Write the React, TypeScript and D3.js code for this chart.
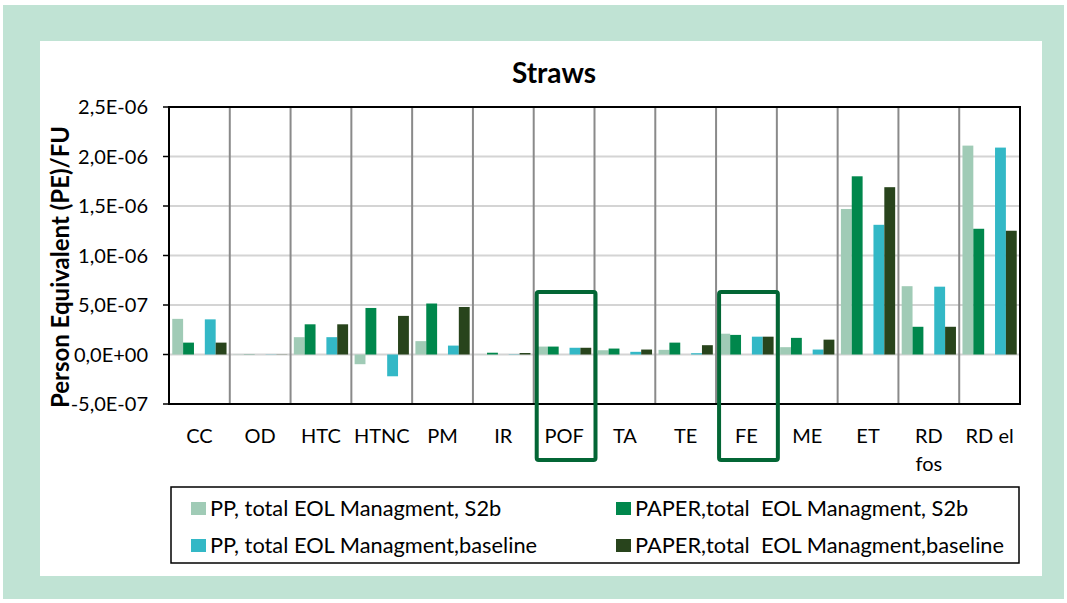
import React, { useEffect, useRef } from "react";
import * as d3 from "d3";

const categories = ["CC", "OD", "HTC", "HTNC", "PM", "IR", "POF", "TA", "TE", "FE", "ME", "ET", "RD fos", "RD el"];
const seriesNames = [
  "PP, total EOL Managment, S2b",
  "PAPER,total  EOL Managment, S2b",
  "PP, total EOL Managment,baseline",
  "PAPER,total  EOL Managment,baseline",
];
const ppS2b = [3.6e-7, 2e-9, 1.75e-7, -0.98e-7, 1.35e-7, 1e-9, 0.8e-7, 0.43e-7, 0.47e-7, 2.1e-7, 0.74e-7, 1.47e-6, 0.69e-6, 2.11e-6];
const paperS2b = [1.2e-7, 2e-9, 3.05e-7, 4.7e-7, 5.15e-7, 1.8e-8, 0.8e-7, 0.6e-7, 1.2e-7, 1.98e-7, 1.68e-7, 1.8e-6, 0.28e-6, 1.27e-6];
const ppBase = [3.55e-7, 2e-9, 1.75e-7, -2.2e-7, 0.9e-7, 3e-9, 0.68e-7, 0.27e-7, 0.13e-7, 1.8e-7, 0.5e-7, 1.31e-6, 0.685e-6, 2.09e-6];
const paperBase = [1.2e-7, 2e-9, 3.05e-7, 3.9e-7, 4.8e-7, 1.5e-8, 0.68e-7, 0.5e-7, 0.94e-7, 1.8e-7, 1.5e-7, 1.69e-6, 0.28e-6, 1.25e-6];
const yTicks = [-5e-7, 0, 5e-7, 1e-6, 1.5e-6, 2e-6, 2.5e-6];
const highlighted = ["POF", "FE"];

const colors = ["#a0cbb6", "#00874c", "#33b8c6", "#28441c"];
const slots = [0, 1, 3, 4]; // Excel leaves a gap between the PP/PAPER pairs
const font = "Lato, 'Open Sans', sans-serif";

const fmt = (v: number) => {
  if (v === 0) return "0,0E+00";
  const e = Math.floor(Math.log10(Math.abs(v)));
  const m = v / Math.pow(10, e);
  return `${m.toFixed(1).replace(".", ",")}E-${String(-e).padStart(2, "0")}`;
};

export default function App() {
  const ref = useRef<SVGSVGElement>(null);

  useEffect(() => {
    const svg = d3.select(ref.current);
    svg.selectAll("*").remove();
    const W = 1067, H = 603;
    const left = 169, right = 1020, top = 107, bottom = 404;

    svg.append("rect").attr("x", 3).attr("y", 5).attr("width", W - 6).attr("height", H - 9).attr("fill", "#c0e3d4");
    svg.append("rect").attr("x", 40).attr("y", 41).attr("width", 1002).attr("height", 535).attr("fill", "#fff");

    const series = [ppS2b, paperS2b, ppBase, paperBase];
    const x = d3.scaleBand<string>().domain(categories).range([left, right]);
    const inner = d3.scaleBand<number>().domain([0, 1, 2, 3, 4]).range([0, x.bandwidth()]).paddingOuter(0.3);
    const y = d3.scaleLinear().domain([-5e-7, 2.5e-6]).range([bottom, top]);

    svg.append("text").attr("x", 554).attr("y", 83).attr("text-anchor", "middle")
      .attr("font-family", font).attr("font-weight", "bold").attr("font-size", 28).text("Straws");

    // horizontal grid
    svg.append("g").selectAll("line").data(yTicks).join("line")
      .attr("x1", left).attr("x2", right).attr("y1", (d) => y(d)).attr("y2", (d) => y(d))
      .attr("stroke", "#d4d4d4").attr("stroke-width", 2);
    // category separators
    svg.append("g").selectAll("line").data(categories.slice(1)).join("line")
      .attr("x1", (d) => x(d)!).attr("x2", (d) => x(d)!).attr("y1", top).attr("y2", bottom)
      .attr("stroke", "#8a8a8a").attr("stroke-width", 2);

    // bars
    series.forEach((vals, si) => {
      svg.append("g").selectAll("rect").data(vals).join("rect")
        .attr("x", (d, i) => x(categories[i])! + inner(slots[si])!)
        .attr("width", inner.bandwidth())
        .attr("y", (d) => y(Math.max(0, d)))
        .attr("height", (d) => Math.abs(y(d) - y(0)))
        .attr("fill", colors[si]);
    });

    // frame
    svg.append("rect").attr("x", left).attr("y", top).attr("width", right - left).attr("height", bottom - top)
      .attr("fill", "none").attr("stroke", "#000").attr("stroke-width", 2);

    // y axis
    const yAxis = svg.append("g");
    yAxis.selectAll("line").data(yTicks).join("line")
      .attr("x1", left - 6).attr("x2", left).attr("y1", (d) => y(d)).attr("y2", (d) => y(d))
      .attr("stroke", "#000").attr("stroke-width", 1.5);
    yAxis.selectAll("text").data(yTicks).join("text")
      .attr("x", left - 21).attr("y", (d) => y(d) + 7).attr("text-anchor", "end")
      .attr("font-family", font).attr("font-size", 20).text((d) => fmt(d));

    svg.append("text").attr("transform", `translate(69,267) rotate(-90)`)
      .attr("text-anchor", "middle").attr("font-family", font).attr("font-weight", "bold").attr("font-size", 24)
      .text("Person Equivalent (PE)/FU");

    // category labels
    svg.append("g").selectAll("text").data(categories).join("text")
      .attr("x", (d) => x(d)! + x.bandwidth() / 2).attr("y", 443).attr("text-anchor", "middle")
      .attr("font-family", font).attr("font-size", 20)
      .each(function (d) {
        const t = d3.select(this);
        const parts = d === "RD fos" ? ["RD", "fos"] : [d];
        parts.forEach((p, i) => t.append("tspan").attr("x", x(d)! + x.bandwidth() / 2).attr("dy", i ? 28 : 0).text(p));
      });

    // highlight boxes
    svg.append("g").selectAll("rect").data(highlighted).join("rect")
      .attr("x", (d) => x(d)! + 3).attr("y", 292).attr("width", x.bandwidth() - 2).attr("height", 168)
      .attr("rx", 2).attr("fill", "none").attr("stroke", "#036635").attr("stroke-width", 4);

    // legend
    svg.append("rect").attr("x", 171).attr("y", 487).attr("width", 848).attr("height", 76)
      .attr("fill", "#fff").attr("stroke", "#000").attr("stroke-width", 1.5);
    const lg = svg.append("g").selectAll("g").data(seriesNames).join("g")
      .attr("transform", (d, i) => `translate(${i % 2 ? 616 : 191},${i < 2 ? 508 : 545})`);
    lg.append("rect").attr("x", 0).attr("y", -6).attr("width", 15).attr("height", 13).attr("fill", (d, i) => colors[i]);
    lg.append("text").attr("x", 19).attr("y", 8).attr("font-family", font).attr("font-size", 21.8)
      .attr("xml:space", "preserve").style("white-space", "pre").text((d) => d);
  }, []);

  return (
    <svg ref={ref} width={1067} height={603} style={{ position: "absolute", left: 0, top: 0 }}></svg>
  );
}
